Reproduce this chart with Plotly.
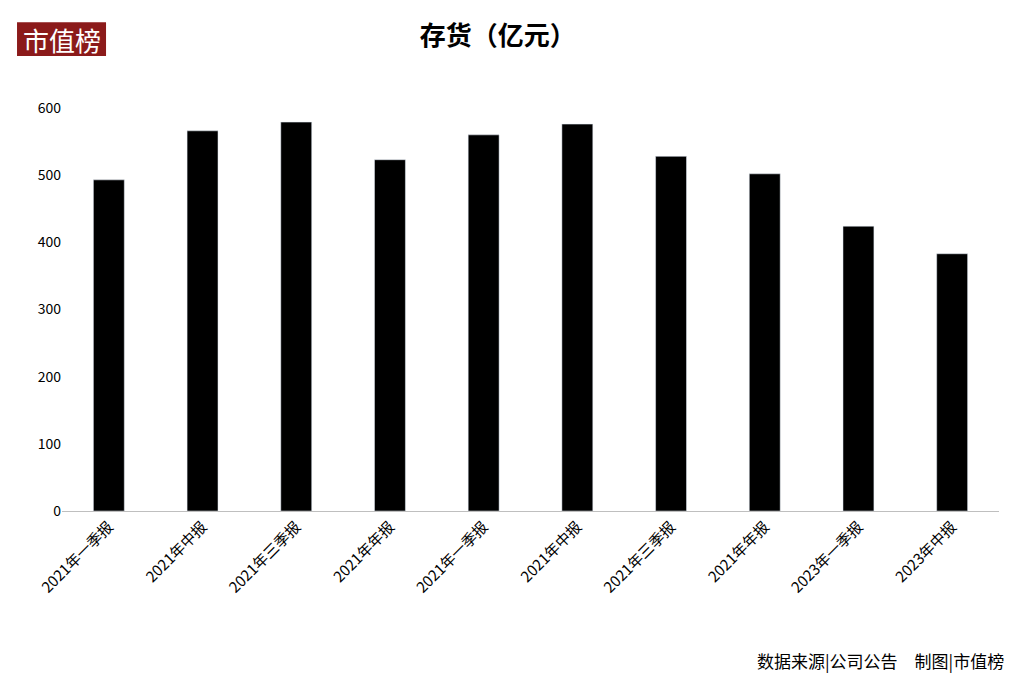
import plotly.graph_objects as go

labels = ["2021年一季报", "2021年中报", "2021年三季报", "2021年年报", "2021年一季报",
          "2021年中报", "2021年三季报", "2021年年报", "2023年一季报", "2023年中报"]
values = [493, 566, 579, 523, 560, 576, 528, 502, 424, 383]
xs = list(range(len(labels)))

font = "Noto Sans CJK SC"
fig = go.Figure(go.Bar(x=xs, y=values, marker_color="black", width=0.33))
fig.update_layout(
    width=1016, height=689, paper_bgcolor="white", plot_bgcolor="white",
    margin=dict(l=54, r=25, t=100, b=186, autoexpand=False),
    font=dict(family=font, size=14, color="black"),
    title=dict(text="<b>存货（亿元）</b>", x=0.482, y=0.972, xanchor="center",
               font=dict(size=26, family=font)),
    showlegend=False,
    xaxis=dict(tickmode="array", tickvals=xs, ticktext=labels, tickangle=-45,
               range=[-0.5, 9.5], showline=True, linecolor="#bfbfbf", ticks="",
               tickfont=dict(size=15), automargin=False),
    yaxis=dict(range=[0, 600], tickvals=[0, 100, 200, 300, 400, 500, 600],
               showgrid=False, zeroline=False, ticks="", tickfont=dict(size=14),
               automargin=False),
)
fig.add_shape(type="rect", xref="paper", yref="paper", x0=-0.048, x1=0.047, y0=1.129, y1=1.213,
              fillcolor="#8b1a1a", line_width=0, layer="below")
fig.add_annotation(xref="paper", yref="paper", x=-0.0005, y=1.171, xanchor="center", yanchor="middle",
                   text="市值榜", showarrow=False, font=dict(size=26, color="white", family=font))
fig.add_annotation(xref="paper", yref="paper", x=1.007, y=-0.372, xanchor="right", yanchor="middle",
                   text="数据来源|公司公告　制图|市值榜", showarrow=False, font=dict(size=17, family=font))
fig.write_html("out.html")
